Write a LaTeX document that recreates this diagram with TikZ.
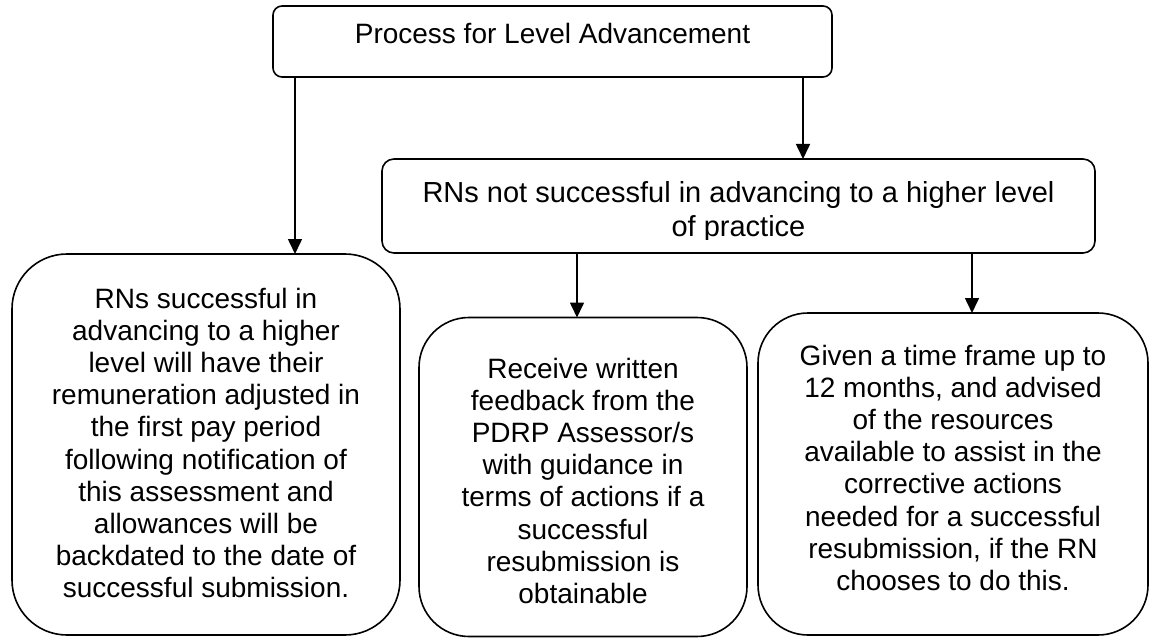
\documentclass[tikz,border=0pt]{standalone}
\usepackage{fontspec}
\setmainfont{Liberation Sans}
\usetikzlibrary{arrows.meta,calc}
\begin{document}
\begin{tikzpicture}[x=1pt,y=-1pt,
  box/.style={draw=black, line width=1.6pt, inner sep=0pt, outer sep=0pt},
  txt/.style={anchor=base, inner sep=0pt, outer sep=0pt, font=\fontsize{28}{32.2}\selectfont},
  arr/.style={line width=1.6pt, -{Triangle[width=14pt,length=15pt]}}]
\useasboundingbox (0,0) rectangle (1153,639);

% boxes
\node[box, rounded corners=9pt, minimum width=559pt, minimum height=71pt] (process) at (552.5,41.5) {};
\node[box, rounded corners=12pt, minimum width=713pt, minimum height=94pt] (notsucc) at (738.5,206) {};
\node[box, rounded corners=55pt, minimum width=388pt, minimum height=381pt] (succ) at (206,444.5) {};
\node[box, rounded corners=50pt, minimum width=328pt, minimum height=319pt] (feedback) at (583,477) {};
\node[box, rounded corners=50pt, minimum width=390pt, minimum height=322pt] (timeframe) at (953,474) {};

% texts
\node[txt] (tprocess) at (552.5,44) {Process for Level Advancement};
\begin{scope}
  \clip (notsucc.north west) rectangle ($(notsucc.south east)+(0,-14)$);
  \node[txt, font=\fontsize{29}{33}\selectfont] (tnotsucc) at (738.5,203) {\begin{tabular}[t]{@{}c@{}}RNs not successful in advancing to a higher level\\ of practice\end{tabular}};
\end{scope}
\node[txt] (tsucc) at (206,308) {\begin{tabular}[t]{@{}c@{}}RNs successful in\\ advancing to a higher\\ level will have their\\ remuneration adjusted in\\ the first pay period\\ following notification of\\ this assessment and\\ allowances will be\\ backdated to the date of\\ successful submission.\end{tabular}};
\node[txt] (tfeedback) at (583,378) {\begin{tabular}[t]{@{}c@{}}Receive written\\ feedback from the\\ PDRP Assessor/s\\ with guidance in\\ terms of actions if a\\ successful\\ resubmission is\\ obtainable\end{tabular}};
\node[txt] (ttimeframe) at (953,365) {\begin{tabular}[t]{@{}c@{}}Given a time frame up to\\ 12 months, and advised\\ of the resources\\ available to assist in the\\ corrective actions\\ needed for a successful\\ resubmission, if the RN\\ chooses to do this.\end{tabular}};

% connectors
\coordinate (c1) at (295,0);
\coordinate (c2) at (803,0);
\coordinate (c3) at (577,0);
\coordinate (c4) at (972,0);
\draw[arr] (process.south -| c1) -- (succ.north -| c1);
\draw[arr] (process.south -| c2) -- (notsucc.north -| c2);
\draw[arr] (notsucc.south -| c3) -- (feedback.north -| c3);
\draw[arr] (notsucc.south -| c4) -- (timeframe.north -| c4);
\end{tikzpicture}
\end{document}
